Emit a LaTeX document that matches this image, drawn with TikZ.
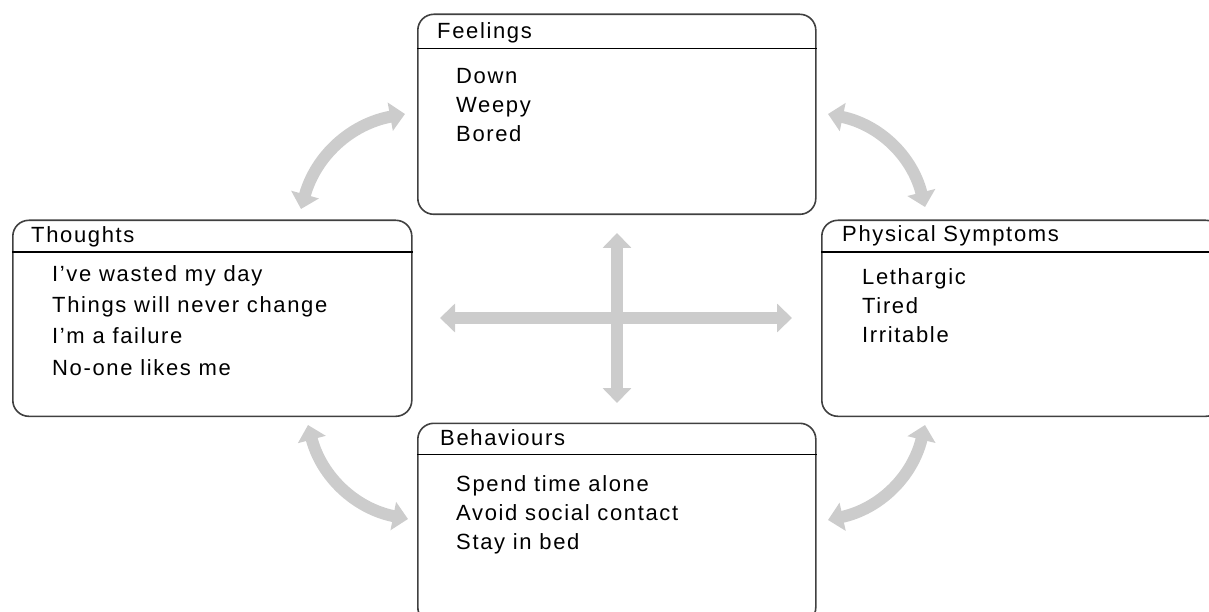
\documentclass[tikz,border=0pt]{standalone}
\usepackage{fontspec}
\setmainfont[LetterSpace=7.5]{Liberation Sans}
\usetikzlibrary{arrows.meta}
\definecolor{arrowgray}{HTML}{CCCCCC}
\definecolor{boxline}{HTML}{404040}
\tikzset{
  box/.style={draw=boxline, line width=1.6pt, rounded corners=16pt, anchor=north west, inner sep=0pt},
  headline/.style={draw=black, line width=1.4pt},
  title/.style={anchor=base west, inner sep=0pt, font=\fontsize{22}{24}\selectfont},
  item/.style={anchor=base west, inner sep=0pt, font=\fontsize{22}{24}\selectfont},
  bigarrow/.style={draw=arrowgray, line width=12pt, {Triangle[length=15pt,width=28pt]}-{Triangle[length=15pt,width=28pt]}},
}
\begin{document}
\begin{tikzpicture}[x=1pt,y=-1pt]
\useasboundingbox (0,0) rectangle (1209,612);
\clip (0,0) rectangle (1209,612);
% boxes
\node[box, minimum width=398pt, minimum height=200pt] (feel) at (417,13.5) {};
\node[box, minimum width=399pt, minimum height=196pt] (thou) at (12,219.5) {};
\node[box, minimum width=400pt, minimum height=196pt] (phys) at (821,219.5) {};
\node[box, minimum width=398pt, minimum height=200pt] (beha) at (417,422.5) {};
% header lines
\draw[headline] ([yshift=-35pt]feel.north west) -- ([yshift=-35pt]feel.north east);
\draw[headline] ([yshift=-32.5pt]thou.north west) -- ([yshift=-32.5pt]thou.north east);
\draw[headline] ([yshift=-32.5pt]phys.north west) -- ([yshift=-32.5pt]phys.north east);
\draw[headline] ([yshift=-32pt]beha.north west) -- ([yshift=-32pt]beha.north east);
% titles
\node[title] (feelt) at (437,39) {Feelings};
\node[title] (thout) at (31,243) {Thoughts};
\node[title] (physt) at (842,242) {Physical Symptoms};
\node[title] (behat) at (440,445) {Behaviours};
% items
\node[item] (f1) at (456,84) {Down};
\node[item] (f2) at (456,113) {Weepy};
\node[item] (f3) at (456,142) {Bored};
\node[item] (t1) at (52,281) {I’ve wasted my day};
\node[item] (t2) at (52,312) {Things will never change};
\node[item] (t3) at (52,343) {I’m a failure};
\node[item] (t4) at (52,375) {No-one likes me};
\node[item] (p1) at (862,284) {Lethargic};
\node[item] (p2) at (862,313) {Tired};
\node[item] (p3) at (862,342) {Irritable};
\node[item] (b1) at (456,491) {Spend time alone};
\node[item] (b2) at (456,520) {Avoid social contact};
\node[item] (b3) at (456,549) {Stay in bed};
% arrow end points
\coordinate (cl) at (440,318);
\coordinate (cr) at (792,318);
\coordinate (ct) at (617,233);
\coordinate (cb) at (617,403);
\coordinate (tlA) at (301,209);
\coordinate (tlB) at (405,114);
\coordinate (trA) at (828,114);
\coordinate (trB) at (925,207);
\coordinate (brA) at (925,425);
\coordinate (brB) at (828,520);
\coordinate (blA) at (408,519);
\coordinate (blB) at (308,425);
% arrows
\draw[bigarrow] (cl) -- (cr);
\draw[bigarrow] (ct) -- (cb);
\draw[bigarrow] (tlA) to[bend left=32] (tlB);
\draw[bigarrow] (trA) to[bend left=32] (trB);
\draw[bigarrow] (brA) to[bend left=32] (brB);
\draw[bigarrow] (blA) to[bend left=32] (blB);
\end{tikzpicture}
\end{document}
